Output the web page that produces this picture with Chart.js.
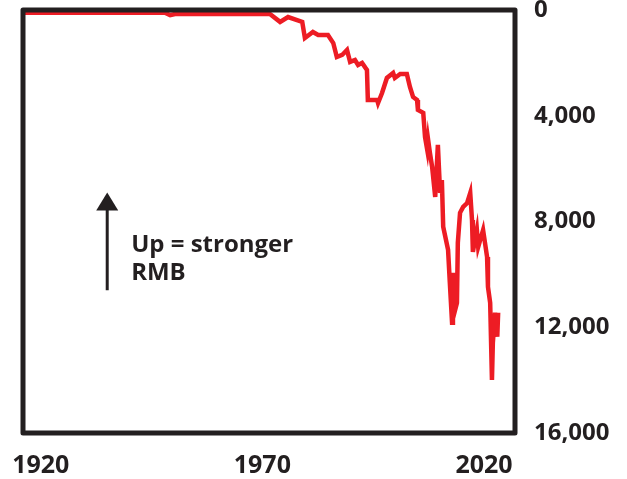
<!DOCTYPE html>
<html>
<head>
<meta charset="utf-8">
<script src="https://cdn.jsdelivr.net/npm/chart.js@4/dist/chart.umd.min.js"></script>
<style>
  html, body { margin: 0; padding: 0; background: #fff; }
</style>
</head>
<body>
<canvas id="chart" width="627" height="479"></canvas>
<script>
// year vs. value (axis reversed, 0 on top)
const years = [1916, 1948, 1949.2, 1950.3, 1969.5, 1971.7, 1974, 1975.8, 1979, 1979.6,
  1981.4, 1982.6, 1984.8, 1986, 1986.8, 1988, 1989.1, 1989.8, 1990.9, 1991.6,
  1992.5, 1993.6, 1993.8, 1995.9, 1996.1, 1997, 1998.1, 1999.5, 1999.9, 2001.1,
  2002.6, 2003.3, 2004, 2004.9, 2005.1, 2006.3, 2006.7, 2007.2, 2007.4, 2007.8,
  2008.3, 2009, 2009.6, 2010.1, 2010.5, 2010.8, 2011.9, 2012.3, 2012.8, 2013,
  2013.5, 2013.9, 2014.1, 2014.6, 2015.3, 2016.2, 2016.9, 2017.3, 2017.5, 2018.4,
  2018.7, 2019.8, 2020.7, 2020.9, 2021.4, 2021.8, 2022, 2022.5, 2023, 2023.2];
const values = [100, 100, 190, 150, 150, 150, 450, 265, 450, 1060,
  830, 945, 945, 1250, 1780, 1700, 1510, 1965, 1890, 2080,
  2000, 2270, 3400, 3400, 3520, 3140, 2570, 2380, 2570, 2420,
  2420, 2910, 3290, 3400, 3780, 3890, 4800, 5290, 4910, 5400,
  5930, 7070, 5100, 6920, 6430, 8200, 9070, 10320, 11830, 9940,
  11340, 11080, 8810, 7670, 7450, 7300, 6920, 7940, 9150, 8320,
  8960, 8320, 9340, 10470, 11080, 13990, 12590, 11450, 12360, 11450];

const xTicks = [1920, 1970, 2020];
const yTicks = [0, 4000, 8000, 12000, 16000];
const noteLines = ['Up = stronger', 'RMB'];

const ink = '#231f20';
const font = "'Open Sans', 'DejaVu Sans', sans-serif";

// thick frame around the plot + arrow note
const frame = {
  id: 'frame',
  afterDatasetsDraw(chart) {
    const { ctx, chartArea: a, scales } = chart;
    ctx.save();
    ctx.strokeStyle = ink;
    ctx.lineWidth = 5;
    ctx.lineJoin = 'round';
    ctx.strokeRect(a.left, a.top, a.right - a.left, a.bottom - a.top);

    // arrow
    const ax = scales.x.getPixelForValue(1935);
    const yTop = scales.y.getPixelForValue(6900);
    const yBot = scales.y.getPixelForValue(10600);
    ctx.lineWidth = 3;
    ctx.beginPath();
    ctx.moveTo(ax, yBot);
    ctx.lineTo(ax, yTop + 14);
    ctx.stroke();
    ctx.fillStyle = ink;
    ctx.beginPath();
    ctx.moveTo(ax, yTop);
    ctx.lineTo(ax - 11, yTop + 18);
    ctx.lineTo(ax + 11, yTop + 18);
    ctx.closePath();
    ctx.fill();

    // text
    ctx.font = 'bold 24px ' + font;
    ctx.textBaseline = 'middle';
    ctx.textAlign = 'left';
    const tx = scales.x.getPixelForValue(1940.4);
    ctx.fillText(noteLines[0], tx, scales.y.getPixelForValue(8900));
    ctx.fillText(noteLines[1], tx, scales.y.getPixelForValue(9950));
    ctx.restore();
  }
};

new Chart(document.getElementById('chart'), {
  type: 'line',
  data: {
    datasets: [{
      data: years.map((yr, i) => ({ x: yr, y: values[i] })),
      borderColor: '#ed1c24',
      borderWidth: 4.5,
      pointRadius: 0,
      tension: 0,
      fill: false
    }]
  },
  options: {
    responsive: false,
    animation: false,
    layout: { padding: { top: 10, left: 23, right: 0, bottom: 0 } },
    plugins: { legend: { display: false }, tooltip: { enabled: false } },
    scales: {
      x: {
        type: 'linear',
        min: 1916,
        max: 2027,
        grid: { display: false },
        border: { display: false },
        afterBuildTicks: s => { s.ticks = xTicks.map(v => ({ value: v })); },
        afterFit: s => { s.height = 46; s.paddingLeft = 0; s.paddingRight = 0; },
        ticks: {
          autoSkip: false,
          maxRotation: 0,
          padding: 10,
          color: ink,
          font: { family: font, size: 25, weight: 'bold' },
          callback: v => String(v)
        }
      },
      y: {
        position: 'right',
        reverse: true,
        min: 0,
        max: 16000,
        grid: { display: false },
        border: { display: false },
        afterBuildTicks: s => { s.ticks = yTicks.map(v => ({ value: v })); },
        afterFit: s => { s.width = 112; s.paddingTop = 0; s.paddingBottom = 0; },
        ticks: {
          padding: 11,
          color: ink,
          font: { family: font, size: 24, weight: 'bold' },
          callback: v => v.toLocaleString('en-US')
        }
      }
    }
  },
  plugins: [frame]
});
</script>
</body>
</html>
